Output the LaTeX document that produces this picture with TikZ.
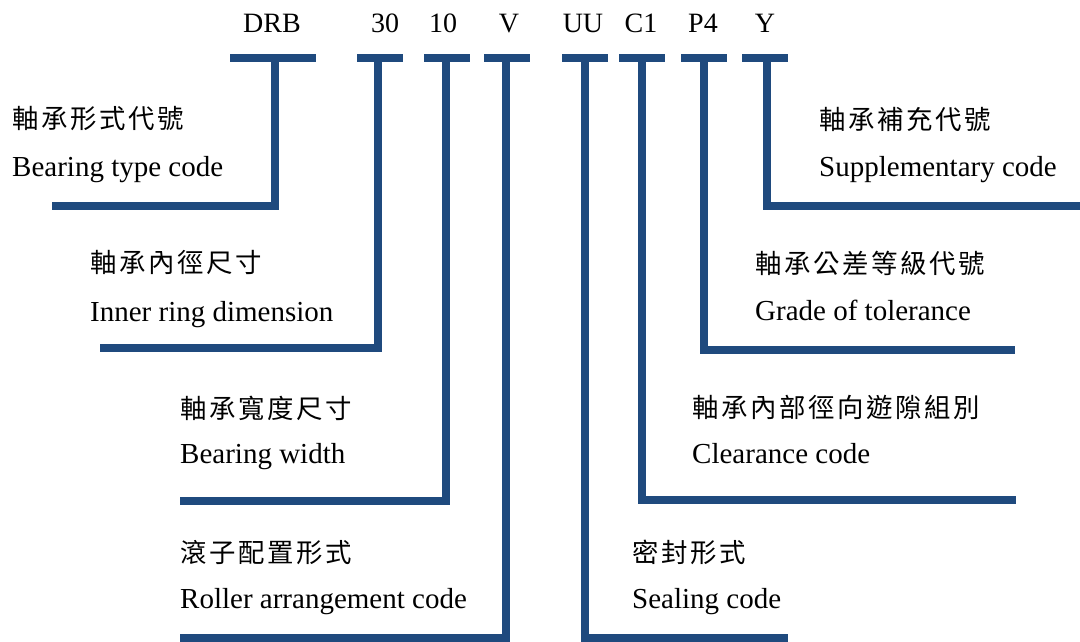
\documentclass[tikz,border=0pt]{standalone}
\usepackage{fontspec}
\setmainfont{Liberation Serif}
\newfontfamily\cjkfont[LetterSpace=10]{Noto Sans CJK TC}
\definecolor{barblue}{HTML}{1F4A7E}
\begin{document}
\begin{tikzpicture}[x=1pt,y=-1pt,
  bar/.style={draw=barblue,line width=8pt,line join=miter,line cap=butt},
  code/.style={anchor=base,inner sep=0pt,font=\fontsize{28}{34}\selectfont},
  zh/.style={anchor=base west,inner sep=0pt,font=\cjkfont\fontsize{26.4}{32}\selectfont},
  en/.style={anchor=base west,inner sep=0pt,font=\fontsize{29}{35}\selectfont}]
\useasboundingbox (0,0) rectangle (1080,641);
% top codes
\node[code] (t1) at (272,32) {DRB};
\node[code] (t2) at (385,32) {30};
\node[code] (t3) at (443,32) {10};
\node[code] (t4) at (509,32) {V};
\node[code] (t5) at (583,32) {UU};
\node[code] (t6) at (641,32) {C1};
\node[code] (t7) at (703,32) {P4};
\node[code] (t8) at (765,32) {Y};
% bars
\coordinate (b1l) at (230,58); \coordinate (b1r) at (316,58);
\coordinate (b2l) at (357,58); \coordinate (b2r) at (403,58);
\coordinate (b3l) at (424,58); \coordinate (b3r) at (470,58);
\coordinate (b4l) at (484,58); \coordinate (b4r) at (530,58);
\coordinate (b5l) at (562,58); \coordinate (b5r) at (608,58);
\coordinate (b6l) at (619,58); \coordinate (b6r) at (665,58);
\coordinate (b7l) at (681,58); \coordinate (b7r) at (727,58);
\coordinate (b8l) at (742,58); \coordinate (b8r) at (788,58);
% stems
\coordinate (s1) at (274.5,58); \coordinate (e1) at (52,205.5);
\coordinate (s2) at (378,58);   \coordinate (e2) at (100,348);
\coordinate (s3) at (446,58);   \coordinate (e3) at (180,501);
\coordinate (s4) at (506,58);   \coordinate (e4) at (180,638);
\coordinate (s5) at (585,58);   \coordinate (e5) at (788,638);
\coordinate (s6) at (642,58);   \coordinate (e6) at (1016,500);
\coordinate (s7) at (704,58);   \coordinate (e7) at (1015,350);
\coordinate (s8) at (767,58);   \coordinate (e8) at (1080,206);
\foreach \i in {1,...,8}{
  \draw[bar] (b\i l) -- (b\i r);
  \draw[bar] (s\i) |- (e\i);
}
% labels
\node[zh] (z1) at (12,128) {軸承形式代號};
\node[en] (n1) at (12,176) {Bearing type code};
\node[zh] (z2) at (90,272) {軸承內徑尺寸};
\node[en] (n2) at (90,321) {Inner ring dimension};
\node[zh] (z3) at (180,418) {軸承寬度尺寸};
\node[en] (n3) at (180,463) {Bearing width};
\node[zh] (z4) at (180,562) {滾子配置形式};
\node[en] (n4) at (180,608) {Roller arrangement code};
\node[zh] (z5) at (632,562) {密封形式};
\node[en] (n5) at (632,608) {Sealing code};
\node[zh] (z6) at (692,417) {軸承內部徑向遊隙組別};
\node[en] (n6) at (692,463) {Clearance code};
\node[zh] (z7) at (755,273) {軸承公差等級代號};
\node[en] (n7) at (755,320) {Grade of tolerance};
\node[zh] (z8) at (819,129) {軸承補充代號};
\node[en] (n8) at (819,176) {Supplementary code};
\end{tikzpicture}
\end{document}
